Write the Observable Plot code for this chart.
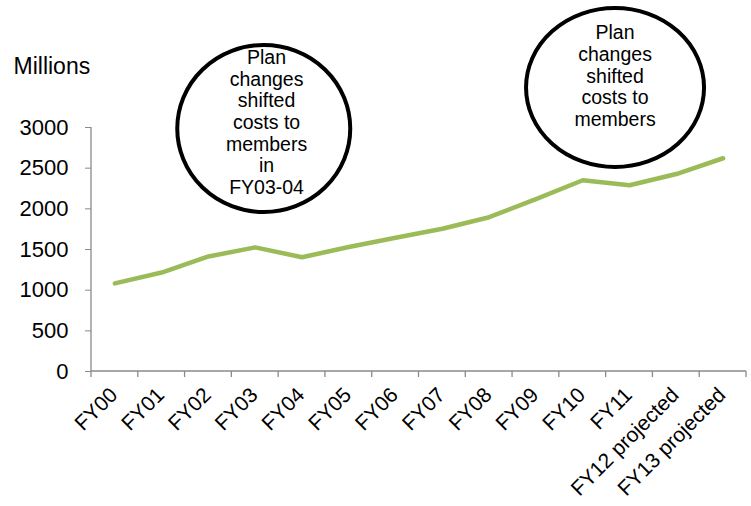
<!DOCTYPE html>
<html>
<head>
<meta charset="utf-8">
<script src="https://cdn.jsdelivr.net/npm/d3@7"></script>
<script src="https://cdn.jsdelivr.net/npm/@observablehq/plot@0.6"></script>
<style>
  html, body { margin: 0; padding: 0; background: #fff; }
  svg { display: block; }
</style>
</head>
<body>
<div id="chart"></div>
<script>
// ---- data ----
const years = ["FY00", "FY01", "FY02", "FY03", "FY04", "FY05", "FY06", "FY07",
               "FY08", "FY09", "FY10", "FY11", "FY12 projected", "FY13 projected"];
const costs = [1083, 1217, 1414, 1526, 1405, 1530, 1645, 1755, 1897, 2120, 2351, 2290, 2428, 2622];
const yTicks = [0, 500, 1000, 1500, 2000, 2500, 3000];
const yUnit = "Millions";
const noteCats = ["FY03", "FY11"];
const noteValues = [3000, 3500];
const noteTexts = [
  "Plan\nchanges\nshifted\ncosts to\nmembers\nin\nFY03-04",
  "Plan\nchanges\nshifted\ncosts to\nmembers"
];

const rows = years.map((year, i) => ({year, cost: costs[i]}));
const notes = noteCats.map((cat, i) => ({cat, value: noteValues[i], text: noteTexts[i]}));

// ---- styling ----
const FONT = "'Liberation Sans', Arial, Helvetica, sans-serif";
const AXIS_GRAY = "#8a8a8a";
const ellipseDx = [9, -14];
const ellipseDy = [1.5, 1.2];
const ellipseRx = [86.5, 89];
const ellipseRy = [83.5, 79.5];
const textDx = [11.3, -14.5];
const textDy = [-5.3, -11];

function bandwidthOf(s) {
  return typeof s.bandwidth === "function" ? s.bandwidth() : (s.bandwidth || 0);
}

// axis frame: y-axis line, x-axis line and ticks at category boundaries
function axisFrame(index, scales) {
  const sx = scales.x, sy = scales.y;
  const bw = bandwidthOf(sx);
  const x0 = sx(years[0]);
  const x1 = sx(years[years.length - 1]) + bw;
  const y0 = sy(0), yTop = sy(d3.max(yTicks));
  const g = d3.create("svg:g")
    .attr("stroke", AXIS_GRAY).attr("stroke-width", 1.3).attr("fill", "none");
  g.append("line").attr("x1", x0).attr("x2", x0).attr("y1", yTop).attr("y2", y0);
  g.append("line").attr("x1", x0).attr("x2", x1).attr("y1", y0).attr("y2", y0);
  const bounds = years.map(c => sx(c)).concat([x1]);
  for (const bx of bounds) {
    g.append("line").attr("x1", bx).attr("x2", bx).attr("y1", y0).attr("y2", y0 + 6);
  }
  return g.node();
}

// annotation ellipses
function noteEllipses(index, scales) {
  const sx = scales.x, sy = scales.y;
  const bw = bandwidthOf(sx);
  const g = d3.create("svg:g")
    .attr("stroke", "black").attr("stroke-width", 4).attr("fill", "white");
  notes.forEach((n, i) => {
    g.append("ellipse")
      .attr("cx", sx(n.cat) + bw / 2 + ellipseDx[i])
      .attr("cy", sy(n.value) + ellipseDy[i])
      .attr("rx", ellipseRx[i])
      .attr("ry", ellipseRy[i]);
  });
  return g.node();
}

const noteTextMarks = notes.map((n, i) =>
  Plot.text([n], {x: "cat", y: "value", text: "text",
                  dx: textDx[i], dy: textDy[i], fontSize: 19.5, lineHeight: 1.11,
                  fill: "black", textAnchor: "middle", lineAnchor: "middle"}));

const chart = Plot.plot({
  width: 751,
  height: 506,
  marginLeft: 91,
  marginRight: 5,
  marginTop: 127,
  marginBottom: 135,
  style: {fontFamily: FONT, background: "white", color: "black", overflow: "visible"},
  x: {type: "band", domain: years, padding: 0, round: false, label: null},
  y: {domain: [0, 3000], label: null},
  marks: [
    axisFrame,
    Plot.line(rows, {x: "year", y: "cost", stroke: "#9bbb59", strokeWidth: 4.5,
                     strokeLinecap: "round", strokeLinejoin: "round"}),
    noteEllipses,
    ...noteTextMarks,
    Plot.axisY(yTicks, {tickSize: 6, tickPadding: 17, fontSize: 22, stroke: AXIS_GRAY,
                        fill: "black", tickFormat: d => String(d), label: null}),
    Plot.axisX({tickSize: 0, tickRotate: -45, tickPadding: 20, dx: -1, fontSize: 21,
                fill: "black", label: null}),
    Plot.text([yUnit], {frameAnchor: "top-left", dx: -78, dy: -54, textAnchor: "start",
                        lineAnchor: "bottom", fontSize: 23, fill: "black"})
  ]
});

document.getElementById("chart").appendChild(chart);
</script>
</body>
</html>
